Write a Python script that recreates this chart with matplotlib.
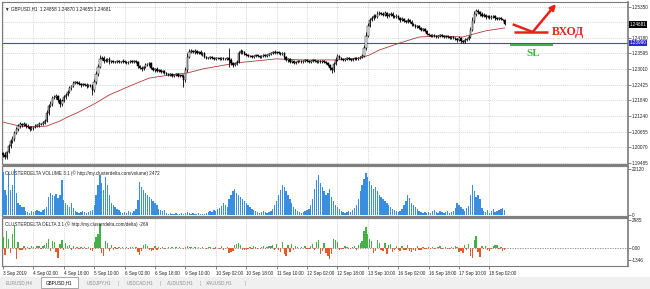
import numpy as np
import matplotlib
matplotlib.use("Agg")
import matplotlib.pyplot as plt
from matplotlib.patches import Rectangle
from matplotlib.transforms import blended_transform_factory

# ---- data (GBPUSD H1, 3-18 Sep 2019) ----
first_open = 1.1985
close = [
    1.1979, 1.1971, 1.1990, 1.2012, 1.2031, 1.2039, 1.2061, 1.2076, 1.2087, 1.2095,
    1.2091, 1.2095, 1.2087, 1.2084, 1.2076, 1.2080, 1.2084, 1.2087, 1.2091, 1.2095, 1.2095, 1.2099, 1.2106,
    1.2136, 1.2163, 1.2170, 1.2193, 1.2196, 1.2200, 1.2185, 1.2170, 1.2181, 1.2196, 1.2204, 1.2215, 1.2230, 1.2237,
    1.2249, 1.2252, 1.2249, 1.2245, 1.2241, 1.2245, 1.2241, 1.2237, 1.2241, 1.2237, 1.2222,
    1.2252, 1.2282, 1.2309, 1.2339, 1.2342, 1.2331, 1.2335, 1.2339, 1.2327, 1.2331, 1.2327,
    1.2327, 1.2331, 1.2327, 1.2327, 1.2331, 1.2327, 1.2324, 1.2327, 1.2331, 1.2327, 1.2331, 1.2327,
    1.2312, 1.2305, 1.2301, 1.2309, 1.2316, 1.2320, 1.2324,
    1.2305, 1.2297, 1.2301, 1.2294, 1.2297, 1.2290, 1.2294, 1.2286,
    1.2282, 1.2279, 1.2282, 1.2275, 1.2279, 1.2282, 1.2275, 1.2279, 1.2275,
    1.2260, 1.2297, 1.2346, 1.2365,
    1.2369, 1.2365, 1.2369, 1.2361, 1.2365, 1.2357, 1.2361,
    1.2346, 1.2342, 1.2342, 1.2346, 1.2342, 1.2339, 1.2342, 1.2342, 1.2339, 1.2342, 1.2339, 1.2339, 1.2342,
    1.2335, 1.2324, 1.2316, 1.2320, 1.2327,
    1.2361, 1.2369, 1.2365, 1.2357,
    1.2354, 1.2350, 1.2350, 1.2346, 1.2350, 1.2354, 1.2350, 1.2346, 1.2350, 1.2354, 1.2350, 1.2354, 1.2357,
    1.2361, 1.2365, 1.2361, 1.2365, 1.2361, 1.2357, 1.2361,
    1.2346, 1.2335, 1.2339, 1.2327, 1.2331, 1.2324, 1.2327,
    1.2331, 1.2331, 1.2327, 1.2331, 1.2335, 1.2331, 1.2327, 1.2331, 1.2335, 1.2331, 1.2327, 1.2331, 1.2327, 1.2331, 1.2327, 1.2324,
    1.2316, 1.2305, 1.2297, 1.2320, 1.2335, 1.2350,
    1.2342, 1.2339, 1.2335, 1.2339, 1.2342, 1.2339, 1.2335, 1.2339, 1.2342, 1.2339, 1.2342, 1.2346, 1.2350,
    1.2380, 1.2425, 1.2463, 1.2485,
    1.2492, 1.2500, 1.2496, 1.2508, 1.2511, 1.2508, 1.2504, 1.2511, 1.2500, 1.2504, 1.2508, 1.2500, 1.2496, 1.2500,
    1.2492, 1.2485, 1.2489, 1.2481, 1.2478, 1.2485, 1.2478, 1.2470,
    1.2466, 1.2459, 1.2463, 1.2455, 1.2447, 1.2451, 1.2444,
    1.2432, 1.2429, 1.2425, 1.2429, 1.2425, 1.2421, 1.2425, 1.2429, 1.2425, 1.2421, 1.2425, 1.2421, 1.2418, 1.2421, 1.2418,
    1.2414, 1.2410, 1.2418, 1.2406, 1.2403, 1.2410, 1.2414, 1.2421,
    1.2447, 1.2481, 1.2508, 1.2519, 1.2515, 1.2508,
    1.2500, 1.2504, 1.2496, 1.2500, 1.2492, 1.2496, 1.2500, 1.2492, 1.2489, 1.2492, 1.2489, 1.2486,
    1.2468,
]
# wick sizes in pips above / below the candle body
wick_up = [
    6, 9, 5, 8, 7, 10, 6, 8, 7, 6,
    5, 7, 4, 6, 5, 8, 4, 6, 5, 7, 4, 6, 8,
    10, 8, 12, 6, 9, 7, 5, 8, 6, 9, 7, 8, 6, 5,
    6, 4, 5, 7, 4, 5, 3, 6, 4, 5, 6,
    10, 12, 9, 14, 8, 6, 7, 5, 6, 4, 5,
    4, 5, 3, 4, 6, 3, 4, 5, 3, 4, 5, 3,
    5, 4, 6, 5, 7, 4, 5,
    4, 5, 3, 6, 4, 5, 3, 4,
    3, 4, 5, 3, 4, 3, 5, 4, 3,
    6, 12, 15, 10,
    8, 5, 6, 4, 5, 6, 4,
    5, 4, 3, 5, 4, 3, 4, 5, 3, 4, 3, 4, 5,
    38, 6, 5, 4, 6,
    8, 6, 5, 4,
    4, 5, 3, 4, 5, 3, 4, 5, 3, 4, 3, 4, 5,
    5, 4, 6, 4, 5, 3, 4,
    4, 5, 3, 4, 5, 3, 4,
    4, 3, 5, 4, 3, 4, 5, 3, 4, 3, 5, 4, 3, 4, 3, 4,
    4, 5, 3, 8, 10, 6,
    4, 3, 5, 4, 3, 4, 3, 5, 4, 3, 4, 5, 6,
    10, 14, 12, 9,
    8, 6, 7, 9, 6, 5, 7, 6, 5, 7, 6, 5, 4, 6,
    5, 4, 6, 4, 5, 6, 4, 5,
    4, 5, 3, 4, 5, 4, 3,
    4, 3, 5, 4, 3, 4, 5, 3, 4, 3, 5, 4, 3, 4, 3,
    4, 5, 6, 4, 5, 6, 5, 7,
    10, 14, 12, 8, 6, 5,
    5, 6, 4, 5, 4, 6, 5, 4, 5, 4, 5, 1,
    1,
]
wick_dn = [
    8, 6, 9, 5, 7, 6, 8, 5, 6, 7,
    6, 5, 7, 4, 8, 5, 6, 4, 5, 6, 4, 5, 4,
    5, 6, 4, 7, 5, 8, 9, 10, 6, 5, 7, 4, 5, 6,
    5, 6, 4, 5, 7, 4, 5, 6, 4, 5, 18,
    6, 8, 7, 5, 6, 8, 5, 6, 7, 5, 4,
    3, 4, 5, 3, 4, 5, 3, 4, 5, 3, 4, 5,
    6, 5, 7, 4, 5, 4, 6,
    5, 4, 6, 5, 3, 4, 5, 4,
    4, 3, 5, 4, 3, 5, 4, 3, 5,
    26, 8, 6, 5,
    5, 4, 6, 5, 4, 5, 6,
    4, 5, 3, 4, 5, 3, 4, 3, 5, 4, 3, 5, 4,
    26, 8, 6, 5, 4,
    5, 4, 6, 5,
    4, 3, 5, 4, 3, 4, 5, 3, 4, 3, 5, 4, 3,
    4, 5, 3, 4, 5, 4, 3,
    6, 5, 7, 5, 4, 6, 5,
    3, 4, 5, 3, 4, 3, 5, 4, 3, 4, 5, 3, 4, 3, 4, 5,
    5, 8, 11, 6, 5, 4,
    4, 3, 5, 4, 3, 4, 5, 3, 4, 3, 4, 5, 4,
    5, 6, 5, 4,
    5, 6, 4, 5, 6, 5, 4, 5, 6, 4, 5, 6, 5, 4,
    5, 6, 4, 5, 6, 4, 5, 6,
    5, 4, 6, 5, 4, 5, 6,
    4, 5, 3, 4, 5, 4, 3, 5, 4, 3, 4, 5, 4, 3, 5,
    5, 6, 4, 7, 6, 5, 4, 3,
    4, 5, 6, 8, 6, 7,
    4, 5, 6, 4, 5, 4, 5, 6, 4, 5, 4, 5,
    3,
]
volume = [
    20700, 12000, 9600, 20700, 12000, 14400, 22120, 10600, 5800, 4800,
    3800, 3900, 1900, 1400, 1000, 1900, 1400, 1900, 2400, 1900, 1400, 2400, 2900,
    3800, 8700, 10600, 9600, 9100, 10100, 8200, 9600, 16800, 7200, 5800, 4800, 3800, 5800,
    3400, 1900, 1400, 1000, 1400, 1900, 1400, 1000, 1400, 1900, 2400,
    4800, 9600, 14400, 19200, 15400, 12000, 18300, 14400, 9600, 5800, 4800,
    3800, 2900, 2400, 1400, 1000, 1400, 1000, 1900, 1400, 1000, 1900, 2900,
    7200, 15900, 13500, 12000, 10600, 9600, 8700,
    7700, 6700, 5800, 4800, 2900, 2400, 1900, 2400,
    1000, 500, 1000, 500, 500, 1000, 500, 500, 1000,
    500, 1000, 1400, 1000,
    500, 1000, 500, 500, 1000, 500, 500,
    500, 1000, 1400, 1900, 1400, 2400, 1900, 2900, 3400, 4300, 5800, 4800, 3800,
    7700, 9600, 11500, 12500, 10600,
    9600, 8700, 7700, 6700,
    5800, 4800, 3800, 2900, 2400, 1900, 1400, 1000, 1400, 1900, 1400, 1000, 1400,
    1900, 2900, 4800, 6700, 9600, 12000, 14400,
    13500, 11500, 9600, 7700, 5800, 3800, 2900,
    1900, 1400, 1000, 1400, 1900, 2400, 2900, 4800, 7700, 12500, 16800, 19200, 15400, 13500, 11500, 9600,
    10600, 12500, 8700, 6700, 4800, 3800,
    2900, 1900, 1400, 1000, 1400, 1900, 1400, 2400, 3400, 4800, 7700, 11500, 14400,
    17300, 20200, 18300, 16300,
    14400, 12500, 13500, 11500, 9600, 8700, 7700, 6700, 5800, 4800, 3800, 2900, 2400, 1900,
    1400, 1900, 2900, 4800, 6700, 9600, 8200, 5800,
    4800, 3800, 2900, 1900, 1400, 1000, 1400,
    1000, 1400, 1000, 1900, 2400, 1400, 1000, 1900, 1400, 1000, 1400, 1900, 1000, 1400, 1900,
    3400, 5800, 4800, 3800, 2900, 1900, 3400, 4300,
    9600, 14400, 11500, 8700, 9600, 7700,
    3400, 1900, 1400, 2400, 1000, 1900, 2900, 1400, 1900, 2400, 2900, 3400,
    2472,
]
delta = [
    1200, -800, 1800, 900, -600, 1500, 2400, -1200, 600, -300,
    -200, 150, -300, 100, -150, 200, 100, -100, 150, 200, -100, 150, 300,
    500, 900, -400, 700, 600, -500, -1100, 400, 800, -300, 500, 200, 300, -200,
    150, -100, 100, -150, 100, -100, 50, -150, 100, -200, -400,
    600, 1200, 1500, 2600, -600, -900, 700, 500, -400, 300, -200,
    100, -100, 50, -50, 100, -50, 50, -100, 50, 100, -50, 50,
    -500, -800, -400, 300, 400, 200, -300,
    -400, -300, 200, -200, 100, -150, 100, -100,
    -50, 50, -50, 50, -50, 50, -50, 50, -50,
    -100, 100, 150, 100,
    50, -50, 50, -50, 50, -50, 50,
    -50, -100, 50, 100, -50, -100, 50, -50, -100, 150, -200, -150, 100,
    -600, -500, -400, 300, 400,
    500, 300, -200, -300,
    -200, -150, 100, -100, 150, 100, -100, -50, 100, 150, -100, 100, 150,
    200, 300, -200, 400, -300, -500, 600,
    -700, -900, 300, -500, 400, -300, 200,
    100, -50, 100, -50, 150, -100, -150, 200, 400, -300, 600, 800, -700, -400, 500, -600,
    -900, -1200, -700, 900, 800, 600,
    -200, -150, -100, 150, 100, -100, -150, 100, 200, -200, 300, 500, 700,
    1800, 2200, 1500, 900,
    700, -600, -400, 800, 500, -300, -400, 500, -700, 300, 400, -500, -300, 200,
    -300, -400, 200, -300, -200, 300, -400, -500,
    -300, -400, 200, -300, -200, 100, -150,
    -100, 100, -150, 100, -100, -50, 100, 150, -100, -50, 100, -100, -150, 100, -100,
    200, 100, -500, -400, -600, 300, -200, 400,
    -900, -1100, 800, 1300, -500, -1050,
    200, -100, 150, -300, -350, -100, 200, 300, 250, -100, 100, -400,
    -269,
]
# moving average (red line), read at a few bars
ma_bar = [0, 4, 9, 17, 23, 30, 34, 40, 49, 56, 68, 77, 88, 97, 105, 123, 144, 158,
          176, 188, 193, 198, 209, 219, 230, 242, 246, 254, 264]
ma_val = [1.2102, 1.2095, 1.2087, 1.2084, 1.2087, 1.2106, 1.2121, 1.2140, 1.2174, 1.2204,
          1.2241, 1.2267, 1.2279, 1.2286, 1.2301, 1.2324, 1.2339, 1.2335, 1.2335, 1.2342,
          1.2354, 1.2372, 1.2399, 1.2421, 1.2425, 1.2421, 1.2429, 1.2444, 1.2455]

price_ticks = [1.19485, 1.20070, 1.20655, 1.21240, 1.21840, 1.22425, 1.23010,
               1.23595, 1.24180, 1.25350]
hidden_grid = 1.24765
level_line = 1.2399
last_price = 1.24681
title_vals = "1.24858 1.24870 1.24655 1.24681"

time_labels = ["3 Sep 2019", "4 Sep 02:00", "4 Sep 18:00", "5 Sep 10:00", "6 Sep 02:00",
               "6 Sep 18:00", "9 Sep 10:00", "10 Sep 02:00", "10 Sep 18:00", "11 Sep 10:00",
               "12 Sep 02:00", "12 Sep 18:00", "13 Sep 10:00", "16 Sep 02:00", "16 Sep 18:00",
               "17 Sep 10:00", "18 Sep 02:00"]
bars_per_label = 16
tabs = ["EURUSD,H4", "GBPUSD,H1", "USDJPY,H1", "USDCAD,H1", "AUDUSD,H1", "XAUUSD,H1"]

# ---- figure ----
W, H = 650, 289
FONT = ["Liberation Sans", "DejaVu Sans"]
plt.rcParams["font.family"] = FONT
fs = 3.3


def rect(x0, y0, x1, y1):
    return [x0 / W, 1 - y1 / H, (x1 - x0) / W, (y1 - y0) / H]


fig = plt.figure(figsize=(W / 100, H / 100), dpi=100)
fig.patch.set_facecolor("white")

ax = fig.add_axes(rect(2, 2, 628, 164))
axv = fig.add_axes(rect(2, 166, 628, 216))
axd = fig.add_axes(rect(2, 218, 628, 266))

n = len(close)
idx = np.arange(n)
c = np.array(close)
o = np.concatenate([[first_open], c[:-1]])
hi = np.maximum(o, c) + np.array(wick_up) * 1e-4
lo = np.minimum(o, c) - np.array(wick_dn) * 1e-4
tick_pos = np.arange(len(time_labels)) * bars_per_label

grid_kw = dict(color="#c8c8c8", lw=0.5, ls=(0, (1.5, 1.5)), zorder=0)
for a in (ax, axv, axd):
    a.set_xlim(-0.5, 328.9)
    for t in tick_pos:
        a.axvline(t, **grid_kw)
    for s in a.spines.values():
        s.set_color("#7a7a7a")
        s.set_linewidth(0.8)
    a.spines["right"].set_linewidth(1.2)
    a.yaxis.tick_right()
    a.tick_params(axis="y", length=2, width=0.5, color="#555555", labelsize=fs, pad=0.8,
                  labelcolor="#222222")
    a.tick_params(axis="x", length=2, width=0.5, color="#555555")
for a in (ax, axv):
    a.set_xticks([])

# price panel
ax.set_ylim(1.194475, 1.255225)
for p in price_ticks + [hidden_grid]:
    ax.axhline(p, **grid_kw)
ax.set_yticks(price_ticks)
ax.set_yticklabels([f"{p:.5f}" for p in price_ticks])
ax.vlines(idx, lo, hi, color="black", lw=0.6, zorder=3)
up = c >= o
ax.bar(idx[up], (c - o)[up], bottom=o[up], width=0.75, color="white",
       edgecolor="black", lw=0.35, zorder=4)
ax.bar(idx[~up], (o - c)[~up], bottom=c[~up], width=0.75, color="black",
       edgecolor="black", lw=0.35, zorder=4)
ax.plot(ma_bar, ma_val, color="#b23a3a", lw=0.6, zorder=2)
ax.axhline(level_line, color="#4b4b9b", lw=0.8, zorder=2)
tr = blended_transform_factory(ax.transAxes, ax.transData)
ax.text(1.003, last_price, f"{last_price:.5f}", transform=tr, fontsize=fs, color="white",
        va="center", ha="left", bbox=dict(fc="black", ec="none", pad=0.6))
ax.text(1.003, level_line, f"{level_line:.5f}", transform=tr, fontsize=fs, color="white",
        va="center", ha="left", bbox=dict(fc="#2a2ad8", ec="none", pad=0.6))
ax.text(0.005, 0.96, "\u25bc GBPUSD,H1  " + title_vals, transform=ax.transAxes,
        fontsize=fs, va="center", ha="left", color="#222222")

# volume panel
axv.set_ylim(-481, 23563)
axv.bar(idx, volume, width=0.7, color="#3a8ee0", zorder=3)
axv.set_yticks([volume[6], 0])
axv.set_yticklabels(["22120", "0"])
axv.text(0.005, 0.86, "CLUSTERDELTA VOLUME 3.1 (\u00a9 http://my.clusterdelta.com/volume) "
         + str(volume[-1]), transform=axv.transAxes, fontsize=fs, va="center", color="#222222")

# delta panel
axd.set_ylim(-1973, 3200)
dcol = ["#45b045" if d >= 0 else "#e8592a" for d in delta]
axd.bar(idx, delta, width=0.7, color=dcol, zorder=3)
axd.axhline(0, color="#808080", lw=0.6, ls=(0, (1.5, 1.5)), zorder=2)
axd.set_yticks([2985, 0, -1346])
axd.set_yticklabels(["2985", "0.00", "-1346"])
axd.text(0.005, 0.88, "CLUSTERDELTA DELTA 3.1 (\u00a9 http://my.clusterdelta.com/delta) "
         + str(delta[-1]), transform=axd.transAxes, fontsize=fs, va="center", color="#222222")
axd.set_xticks(tick_pos)
axd.set_xticklabels(time_labels, fontsize=fs, ha="left", color="#222222")
axd.tick_params(axis="x", pad=1.5)

# overlay in pixel coordinates: separators, tabs, hand-drawn marks
ov = fig.add_axes([0, 0, 1, 1], zorder=10)
ov.set_xlim(0, W)
ov.set_ylim(H, 0)
ov.axis("off")
ov.patch.set_alpha(0)
for y in (165, 217):
    ov.plot([2, 628], [y, y], color="#808080", lw=2.2, solid_capstyle="butt")
ov.add_patch(Rectangle((0, 276.5), W, 13, color="#f0f0f0", zorder=0))
ov.add_patch(Rectangle((41, 276.5), 37, 11.5, fc="white", ec="#9a9a9a", lw=0.6))
tab_x = [19, 59.5, 99, 140, 180, 219]
for tx, name in zip(tab_x, tabs):
    ov.text(tx, 283, name, fontsize=fs, ha="center", va="center",
            color="black" if name == "GBPUSD,H1" else "#8a8a8a")
for sx in (118, 160, 200, 245):
    ov.text(sx, 283, "|", fontsize=fs, ha="center", va="center", color="#9a9a9a")

red = "#e5231b"
ov.plot([512.7, 532.7], [24.3, 32], color=red, lw=1.8, solid_capstyle="butt")
ov.plot([514, 548], [32.3, 32.3], color=red, lw=1.8, solid_capstyle="butt")
ov.annotate("", xy=(556, 4), xytext=(532.7, 32),
            arrowprops=dict(arrowstyle="-|>", color=red, lw=1.8, mutation_scale=8,
                            shrinkA=0, shrinkB=0))
ov.text(552, 32, "ВХОД", color=red, fontsize=8.5, fontweight="bold", va="center",
        ha="left", family=["Liberation Serif", "DejaVu Serif"])
green = "#40b840"
ov.plot([510, 553], [45, 45], color=green, lw=1.5, solid_capstyle="butt")
ov.text(533.5, 53, "SL", color=green, fontsize=8, fontweight="bold", va="center",
        ha="center", family=["Liberation Serif", "DejaVu Serif"])

fig.savefig("out.png", dpi=100)
